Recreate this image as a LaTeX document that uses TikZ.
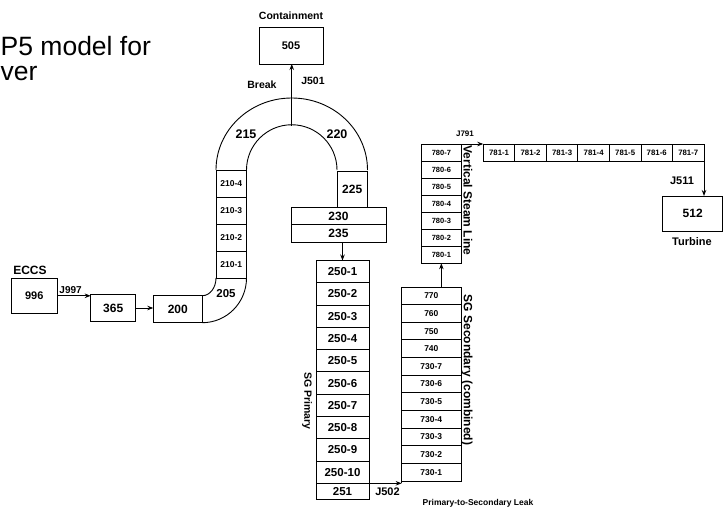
\documentclass[tikz,border=0pt]{standalone}
\usepackage{fontspec}
\setmainfont{Liberation Sans}
\usetikzlibrary{arrows.meta,positioning,calc}
\newcommand{\fsz}[1]{\fontsize{#1}{#1}\selectfont}

\begin{document}
\begin{tikzpicture}[>={Stealth[length=6pt,width=4.5pt]}, x=1pt, y=1pt,
    cell/.style={draw, line width=0.9pt, inner sep=0pt, outer sep=0pt, font=\bfseries\fsz{11}},
    lbl/.style={inner sep=0pt, font=\bfseries\fsz{10.5}},
    flow/.style={->, line width=0.9pt}]
    \useasboundingbox (0,0) rectangle (724,-514);

    % Title (cut at the left edge)
    \node[anchor=base west, inner sep=0pt, font=\fsz{26.5}] (title1) at (0.5,-55) {P5 model for};
    \node[anchor=base west, inner sep=0pt, font=\fsz{26.5}] (title2) at (0.5,-80) {ver};

    % Containment
    \node[cell, minimum width=64pt, minimum height=37pt] (v505) at (291,-45.5) {505};
    \node[lbl] (contlbl) at (291,-15.7) {Containment};

    % ECCS injection
    \node[cell, minimum width=46pt, minimum height=35pt] (v996) at (34.2,-295.8) {996};
    \node[lbl, font=\bfseries\fsz{12}] (eccslbl) at (30,-270.7) {ECCS};
    \node[cell, font=\bfseries\fsz{12}, minimum width=45pt, minimum height=27.4pt] (v365) at (113.2,-308) {365};
    \node[cell, font=\bfseries\fsz{12}, minimum width=49pt, minimum height=27pt] (v200) at (177.8,-309.2) {200};
    \draw[flow] (v996.east) -- (v996.east -| v365.west) node[lbl, font=\bfseries\fsz{10}, pos=0.4, above=2pt] {J997};
    \draw[flow] (v365.east) -- (v365.east -| v200.west);

    % Hot leg 210
    \foreach \i in {1,...,4}
        \node[cell, font=\bfseries\fsz{8.5}, minimum width=30.5pt, minimum height=27pt] (v210\i) at (231.25,{-278+27*(\i-0.5)}) {210-\i};

    % Elbow 205
    \draw[line width=0.9pt] (v200.south east) arc[start angle=-90, end angle=0, x radius=44.2, y radius=44.7];
    \draw[line width=0.9pt] (v200.north east) arc[start angle=-90, end angle=0, x radius=13.7, y radius=17.7];
    \node[lbl, font=\bfseries\fsz{11.5}] (l205) at (226,-294) {205};

    % 225, 230, 235
    \node[cell, font=\bfseries\fsz{12}, minimum width=30.5pt, minimum height=36.7pt] (v225) at (352.25,-189.35) {225};
    \node[cell, font=\bfseries\fsz{12}, minimum width=95pt, minimum height=17pt] (v230) at (338.5,-216.2) {230};
    \node[cell, font=\bfseries\fsz{12}, minimum width=95pt, minimum height=17.6pt] (v235) at (338.5,-233.5) {235};

    % U-bend 215/220
    \draw[line width=0.9pt] (v2104.north west) arc[start angle=180, end angle=0, x radius=75.75, y radius=72];
    \draw[line width=0.9pt] (v2104.north east) arc[start angle=180, end angle=0, radius=45.25];
    \node[lbl, font=\bfseries\fsz{12.5}] (l215) at (246,-134) {215};
    \node[lbl, font=\bfseries\fsz{12.5}] (l220) at (337,-134) {220};

    % Break to containment
    \coordinate (brk) at (291.75,-125.75);
    \draw[flow] (brk) -- (brk |- v505.south);
    \node[lbl] (brklbl) at (262,-85) {Break};
    \node[lbl] (j501) at (313,-81) {J501};

    % SG primary
    \foreach \i in {1,...,10}
        \node[cell, font=\bfseries\fsz{11.5}, minimum width=53pt, minimum height=22.28pt] (sgp\i) at (342.5,{-260.5-22.28*(\i-0.5)}) {250-\i};
    \node[cell, font=\bfseries\fsz{11.5}, minimum width=53pt, minimum height=16.2pt] (sgp11) at (342.5,-491.4) {251};
    \draw[flow] (v235.south -| sgp1.north) -- (sgp1.north);
    \node[lbl, rotate=-90] (sgplbl) at (307,-401) {SG Primary};

    % SG secondary
    \foreach \lab [count=\i] in {770,760,750,740,730-7,730-6,730-5,730-4,730-3,730-2,730-1}
        \node[cell, font=\bfseries\fsz{8.5}, minimum width=59.3pt, minimum height=17.64pt] (sgs\i) at (431.35,{-287-17.64*(\i-0.5)}) {\lab};
    \node[lbl, rotate=-90, font=\bfseries\fsz{12}] (sgslbl) at (467,-370) {SG Secondary (combined)};

    % Leak J502
    \draw[flow] (sgp11.north east) -- (sgp11.north east -| sgs11.south west);
    \draw[line width=0.9pt] (sgs11.south west) -- (sgs11.south west |- sgp11.north east);
    \node[lbl, font=\bfseries\fsz{11}] (j502) at (387.5,-491.7) {J502};
    \node[lbl, font=\bfseries\fsz{8.5}] (leaklbl) at (478,-503) {Primary-to-Secondary Leak};

    % Vertical steam line
    \foreach \i in {1,...,7}
        \node[cell, font=\bfseries\fsz{7.5}, minimum width=39.3pt, minimum height=17.04pt] (vs\i) at (441.35,{-144-17.04*(7.5-\i)}) {780-\i};
    \draw[flow] (sgs1.north -| vs1.south) -- (vs1.south);
    \node[lbl, rotate=-90, font=\bfseries\fsz{12}] (vsllbl) at (468,-200.5) {Vertical Steam Line};

    % Horizontal steam line
    \foreach \i in {1,...,7}
        \node[cell, font=\bfseries\fsz{7.8}, minimum width=31.53pt, minimum height=17.5pt] (sl\i) at ({483.3+31.53*(\i-0.5)},-152.75) {781-\i};
    \draw[flow] (vs7.north east) -- (sl1.north west);
    \node[lbl, font=\bfseries\fsz{8}] (j791) at (465,-134) {J791};

    % Turbine
    \node[cell, font=\bfseries\fsz{12}, minimum width=60pt, minimum height=35.7pt] (v512) at (692.7,-213.85) {512};
    \draw[flow] (sl7.south east) -- (sl7.south east |- v512.north);
    \node[lbl, font=\bfseries\fsz{11}] (j511) at (682,-181) {J511};
    \node[lbl, font=\bfseries\fsz{11}] (turblbl) at (692,-242) {Turbine};
\end{tikzpicture}
\end{document}
